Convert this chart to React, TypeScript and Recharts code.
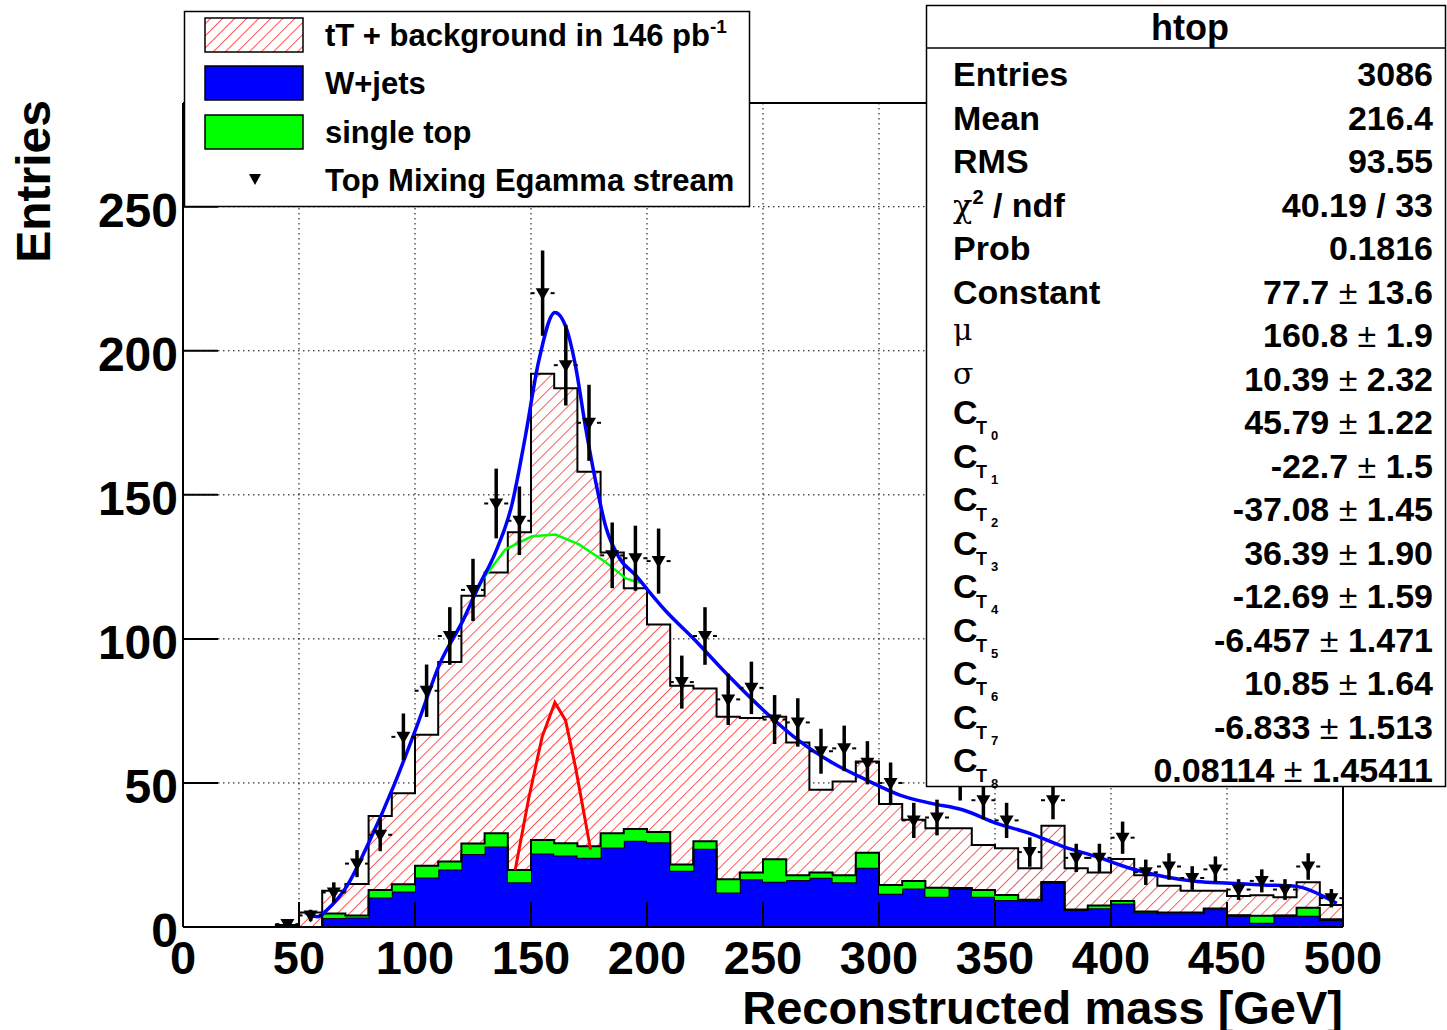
import React from "react"
import {
  ComposedChart,
  Area,
  Line,
  Scatter,
  XAxis,
  YAxis,
  CartesianGrid,
  ErrorBar,
  ReferenceLine,
} from "recharts"

// 10 GeV bins, low edges
const binLow = [
  0, 10, 20, 30, 40, 50, 60, 70, 80, 90, 100, 110, 120, 130, 140, 150, 160, 170, 180, 190, 200, 210, 220, 230, 240,
  250, 260, 270, 280, 290, 300, 310, 320, 330, 340, 350, 360, 370, 380, 390, 400, 410, 420, 430, 440, 450, 460, 470,
  480, 490,
]
const mcTotal = [
  0, 0, 0, 0, 0.7, 5, 12.6, 14.9, 38.5, 46.4, 66.7, 92, 115, 123, 137, 192, 187, 158, 130, 117.6, 105, 83.7, 82.8, 73,
  72.5, 73, 64, 47.6, 50.5, 57.4, 42.7, 37.2, 34.3, 34.3, 28.5, 27.3, 20.4, 35.1, 20.4, 18.9, 23.6, 18, 14.3, 12.6,
  12.6, 10.8, 11, 10.3, 15.5, 7.6,
]
const wJets = [
  0, 0, 0, 0, 0, 0, 3.1, 3.3, 10.2, 12.3, 17.2, 20, 25.3, 27.9, 15.5, 25.5, 24.8, 24, 27.6, 29.9, 29.4, 19.5, 27.2, 12,
  16.6, 15.7, 16.3, 17.1, 15.5, 20.6, 11.5, 13.4, 10.5, 13.2, 10.5, 9.4, 9.2, 15.4, 5.9, 6.5, 8.2, 5.1, 4.8, 4.8, 6.2,
  3.9, 1.5, 3.9, 3.9, 2.4,
]
const singleTop = [
  0, 0, 0, 0, 0, 0, 1.6, 0.7, 2.6, 2.5, 4.1, 2.7, 3.7, 4.6, 4.3, 4.7, 4.3, 4, 4.9, 4.1, 3.6, 2.2, 2.6, 4.6, 2.3, 7.8,
  1.7, 1.8, 2.5, 5.2, 3.1, 2.6, 3.1, 0.3, 2.3, 1.7, 0.3, 0.2, 0.2, 1, 0.8, 0.3, 0.2, 0.2, 0.2, 0.2, 2.4, 0.1, 2.8, 0.3,
]

// Top Mixing Egamma stream (data)
const dataMass = [
  45, 55, 65, 75, 85, 95, 105, 115, 125, 135, 145, 155, 165, 175, 185, 195, 205, 215, 225, 235, 245, 255, 265, 275, 285,
  295, 305, 315, 325, 335, 345, 355, 365, 375, 385, 395, 405, 415, 425, 435, 445, 455, 465, 475, 485, 495,
]
const dataCounts = [
  1, 4, 12, 22, 32, 66, 82, 101, 117, 147, 141, 220, 195, 175, 129, 128, 127, 85, 101, 79, 83, 72, 71, 61, 62, 57, 50,
  37, 38, 51, 44, 37, 26, 44, 24, 24, 31, 19, 21, 17, 20, 13, 16, 13, 21, 10,
]
const dataErrors = [
  1, 2, 3.5, 4.7, 5.7, 8.1, 9.1, 10, 10.8, 12.1, 11.9, 14.8, 14, 13.2, 11.4, 11.3, 11.3, 9.2, 10, 8.9, 9.1, 8.5, 8.4,
  7.8, 7.9, 7.5, 7.1, 6.1, 6.2, 7.1, 6.6, 6.1, 5.1, 6.6, 4.9, 4.9, 5.6, 4.4, 4.6, 4.1, 4.5, 3.6, 4, 3.6, 4.6, 3.2,
]

// fit curves
const fitMass = [
  52.6, 58.3, 62, 70.5, 80.6, 90.7, 100.7, 110.8, 120.8, 127.3, 134.5, 141.8, 147.5, 153.3, 160.3, 165.2, 169.2, 173.6,
  177.9, 182.2, 188, 195.2, 200, 208.2, 219.8, 234.3, 251.6, 265.9, 280.3, 294.7, 309, 322, 336.3, 350.7, 365, 379.4,
  393.8, 408.2, 422.6, 437, 451.3, 465.7, 480, 487.2, 497.3,
]
const fitTotal = [
  5, 3.6, 5.9, 14, 30.2, 48.7, 69.5, 91.6, 106.6, 118, 129.7, 146.7, 170, 196.3, 213.3, 207.9, 194.7, 173, 154.5, 139,
  128.2, 122, 117.3, 109.6, 100.3, 87.9, 74.2, 64.4, 56.8, 51, 45.8, 43, 40.6, 36, 32.5, 27.9, 24.4, 20.4, 17.5, 15.8,
  15.2, 14.6, 14.1, 12.3, 8.2,
]
const bgMass = [125, 129.5, 138.9, 150.4, 160.5, 170.7, 182.2, 190.9, 197]
const bgFit = [114, 121, 131, 135.6, 136.2, 132.8, 126.6, 121, 119.5]
const gausMass = [143.2, 149, 154.8, 160.3, 164.9, 169.2, 175.7]
const gausFit = [19.8, 44.6, 66, 77.9, 71.7, 55.4, 26.8]

const xTicks = [0, 50, 100, 150, 200, 250, 300, 350, 400, 450, 500]
const yTicks = [0, 50, 100, 150, 200, 250]

const legendLabels = ["tT + background in 146 pb", "W+jets", "single top", "Top Mixing Egamma stream"]

const statLabels = [
  "Entries", "Mean", "RMS", "χ2 / ndf", "Prob", "Constant", "μ", "σ",
  "C_T0", "C_T1", "C_T2", "C_T3", "C_T4", "C_T5", "C_T6", "C_T7", "C_T8",
]
const statValues = [
  "3086", "216.4", "93.55", "40.19 / 33", "0.1816", "77.7", "160.8", "10.39",
  "45.79", "-22.7", "-37.08", "36.39", "-12.69", "-6.457", "10.85", "-6.833", "0.08114",
]
const statErrors = [
  "", "", "", "", "", "13.6", "1.9", "2.32",
  "1.22", "1.5", "1.45", "1.90", "1.59", "1.471", "1.64", "1.513", "1.45411",
]

const FONT = "'Liberation Sans', Arial, Helvetica, sans-serif"

const XTick = (props: any) => {
  const { x, payload } = props
  return (
    <g>
      <line x1={x} y1={927} x2={x} y2={902} stroke="#000" strokeWidth={2} />
      <text x={x} y={974} textAnchor="middle" fontFamily={FONT} fontWeight="bold" fontSize={47} fill="#000">
        {payload.value}
      </text>
    </g>
  )
}

const YTick = (props: any) => {
  const { y, payload } = props
  return (
    <g>
      <line x1={183} y1={y} x2={218} y2={y} stroke="#000" strokeWidth={2} />
      <text x={178} y={y + 20} textAnchor="end" fontFamily={FONT} fontWeight="bold" fontSize={48} fill="#000">
        {payload.value}
      </text>
    </g>
  )
}

const DownTriangle = (props: any) => {
  const { cx, cy } = props
  if (cx == null || cy == null) return null
  return (
    <g>
      <line x1={cx - 12} y1={cy} x2={cx - 8} y2={cy} stroke="#000" strokeWidth={2} />
      <line x1={cx + 8} y1={cy} x2={cx + 12} y2={cy} stroke="#000" strokeWidth={2} />
      <polygon points={`${cx - 7},${cy - 5} ${cx + 7},${cy - 5} ${cx},${cy + 7}`} fill="#000" />
    </g>
  )
}

function StatLabel({ label, b }: { label: string; b: number }) {
  if (label.startsWith("C_T")) {
    const d = label.slice(3)
    return (
      <g fontFamily={FONT} fontWeight="bold" fill="#000">
        <text x={953} y={b - 10} fontSize={34}>C</text>
        <text x={976} y={b} fontSize={18}>T</text>
        <text x={991} y={b + 6} fontSize={13}>{d}</text>
      </g>
    )
  }
  if (label === "χ2 / ndf") {
    return (
      <text x={953} y={b} fontFamily={FONT} fontWeight="bold" fontSize={34} fill="#000">
        <tspan fontFamily="'DejaVu Serif', serif" fontWeight="normal" fontSize={32}>χ</tspan>
        <tspan fontSize={20} dy={-13}>2</tspan>
        <tspan dy={13}> / ndf</tspan>
      </text>
    )
  }
  if (label === "μ" || label === "σ") {
    return (
      <text x={953} y={b - 7} fontFamily="'DejaVu Serif', serif" fontSize={30} fill="#000">
        {label}
      </text>
    )
  }
  return (
    <text x={953} y={b} fontFamily={FONT} fontWeight="bold" fontSize={34} fill="#000">
      {label}
    </text>
  )
}

export default function App() {
  const histRows = binLow.map((x, i) => ({ x, total: mcTotal[i], wjets: wJets[i], stop: singleTop[i] }))
  const last = binLow.length - 1
  histRows.push({ x: 500, total: mcTotal[last], wjets: wJets[last], stop: singleTop[last] })

  const points = dataMass.map((x, i) => ({ x, n: dataCounts[i], err: dataErrors[i] }))
  const fitRows = fitMass.map((x, i) => ({ x, v: fitTotal[i] }))
  const bgRows = bgMass.map((x, i) => ({ x, v: bgFit[i] }))
  const gausRows = gausMass.map((x, i) => ({ x, v: gausFit[i] }))

  return (
    <div style={{ position: "absolute", left: 0, top: 0, width: 1447, height: 1030, background: "#fff" }}>
      <svg width={0} height={0} style={{ position: "absolute" }}>
        <defs>
          <pattern id="hatch" width={8.5} height={8.5} patternUnits="userSpaceOnUse" patternTransform="rotate(45)">
            <rect width={8.5} height={8.5} fill="#fff" />
            <line x1={0} y1={0} x2={0} y2={8.5} stroke="#ff0000" strokeWidth={1.3} />
          </pattern>
        </defs>
      </svg>

      <ComposedChart
        width={1447}
        height={1030}
        data={histRows}
        margin={{ top: 103, right: 104, bottom: 63, left: 143 }}
      >
        <CartesianGrid stroke="#000" strokeDasharray="1.5 3.5" strokeWidth={1} />
        <XAxis
          dataKey="x"
          type="number"
          domain={[0, 500]}
          ticks={xTicks}
          interval={0}
          height={40}
          tickSize={0}
          tickMargin={0}
          tickLine={false}
          axisLine={{ stroke: "#000", strokeWidth: 2 }}
          tick={XTick}
          allowDataOverflow
        />
        <YAxis
          type="number"
          domain={[0, 286]}
          ticks={yTicks}
          interval={0}
          width={40}
          tickSize={0}
          tickMargin={0}
          tickLine={false}
          axisLine={{ stroke: "#000", strokeWidth: 2 }}
          tick={YTick}
          allowDataOverflow
        />
        <Area
          type="stepAfter"
          dataKey="total"
          fill="url(#hatch)"
          fillOpacity={1}
          stroke="#000"
          strokeWidth={2}
          isAnimationActive={false}
        />
        <Area
          type="stepAfter"
          dataKey="wjets"
          stackId="bg"
          fill="#0000ff"
          fillOpacity={1}
          stroke="#000"
          strokeWidth={2}
          isAnimationActive={false}
        />
        <Area
          type="stepAfter"
          dataKey="stop"
          stackId="bg"
          fill="#00ff00"
          fillOpacity={1}
          stroke="#000"
          strokeWidth={2}
          isAnimationActive={false}
        />
        <ReferenceLine y={0} stroke="#ff0000" strokeWidth={2} segment={[{ x: 60, y: 0 }, { x: 500, y: 0 }]} />
        <Line data={bgRows} dataKey="v" type="linear" stroke="#00ff00" strokeWidth={2.5} dot={false} isAnimationActive={false} />
        <Line data={gausRows} dataKey="v" type="linear" stroke="#ff0000" strokeWidth={3} dot={false} isAnimationActive={false} />
        <Line data={fitRows} dataKey="v" type="monotone" stroke="#0000ff" strokeWidth={3.5} dot={false} isAnimationActive={false} />
        <Scatter data={points} dataKey="n" shape={DownTriangle} isAnimationActive={false}>
          <ErrorBar dataKey="err" direction="y" width={0} stroke="#000" strokeWidth={3.5} />
        </Scatter>
        <ReferenceLine x={500} stroke="#000" strokeWidth={2} />
        <ReferenceLine y={286} stroke="#000" strokeWidth={2} />
      </ComposedChart>

      <svg width={1447} height={1030} style={{ position: "absolute", left: 0, top: 0, pointerEvents: "none" }}>
        {/* axis titles */}
        <text x={1343} y={1024} textAnchor="end" fontFamily={FONT} fontWeight="bold" fontSize={47} fill="#000">
          Reconstructed mass [GeV]
        </text>
        <text
          x={50}
          y={100}
          transform="rotate(-90, 50, 100)"
          textAnchor="end"
          fontFamily={FONT}
          fontWeight="bold"
          fontSize={48}
          fill="#000"
        >
          Entries
        </text>

        {/* legend */}
        <rect x={184.5} y={11.5} width={565} height={195} fill="#fff" stroke="#000" strokeWidth={1.5} />
        <rect x={205} y={18} width={98} height={34} fill="url(#hatch)" stroke="#000" strokeWidth={1.5} />
        <rect x={205} y={66} width={98} height={34} fill="#0000ff" stroke="#000" strokeWidth={1.5} />
        <rect x={205} y={115} width={98} height={34} fill="#00ff00" stroke="#000" strokeWidth={1.5} />
        <polygon points="249,174 261,174 255,185" fill="#000" />
        {legendLabels.map((l, i) => (
          <text key={l} x={325} y={46 + 48.3 * i} fontFamily={FONT} fontWeight="bold" fontSize={31} fill="#000">
            {l}
            {i === 0 && (
              <tspan fontSize={19} dy={-13}>
                -1
              </tspan>
            )}
          </text>
        ))}

        {/* stats box */}
        <rect x={926.5} y={5.5} width={519} height={781} fill="#fff" stroke="#000" strokeWidth={1.5} />
        <line x1={926.5} y1={48} x2={1446} y2={48} stroke="#000" strokeWidth={1.5} />
        <text x={1190} y={40} textAnchor="middle" fontFamily={FONT} fontWeight="bold" fontSize={36} fill="#000">
          htop
        </text>
        {statLabels.map((l, i) => {
          const b = 86 + 43.5 * i
          return (
            <g key={l}>
              <StatLabel label={l} b={b} />
              <text x={1433} y={b} textAnchor="end" fontFamily={FONT} fontWeight="bold" fontSize={34} fill="#000">
                {statValues[i]}
                {statErrors[i] !== "" && (
                  <>
                    <tspan fontWeight="normal"> ± </tspan>
                    <tspan>{statErrors[i]}</tspan>
                  </>
                )}
              </text>
            </g>
          )
        })}
      </svg>
    </div>
  )
}
